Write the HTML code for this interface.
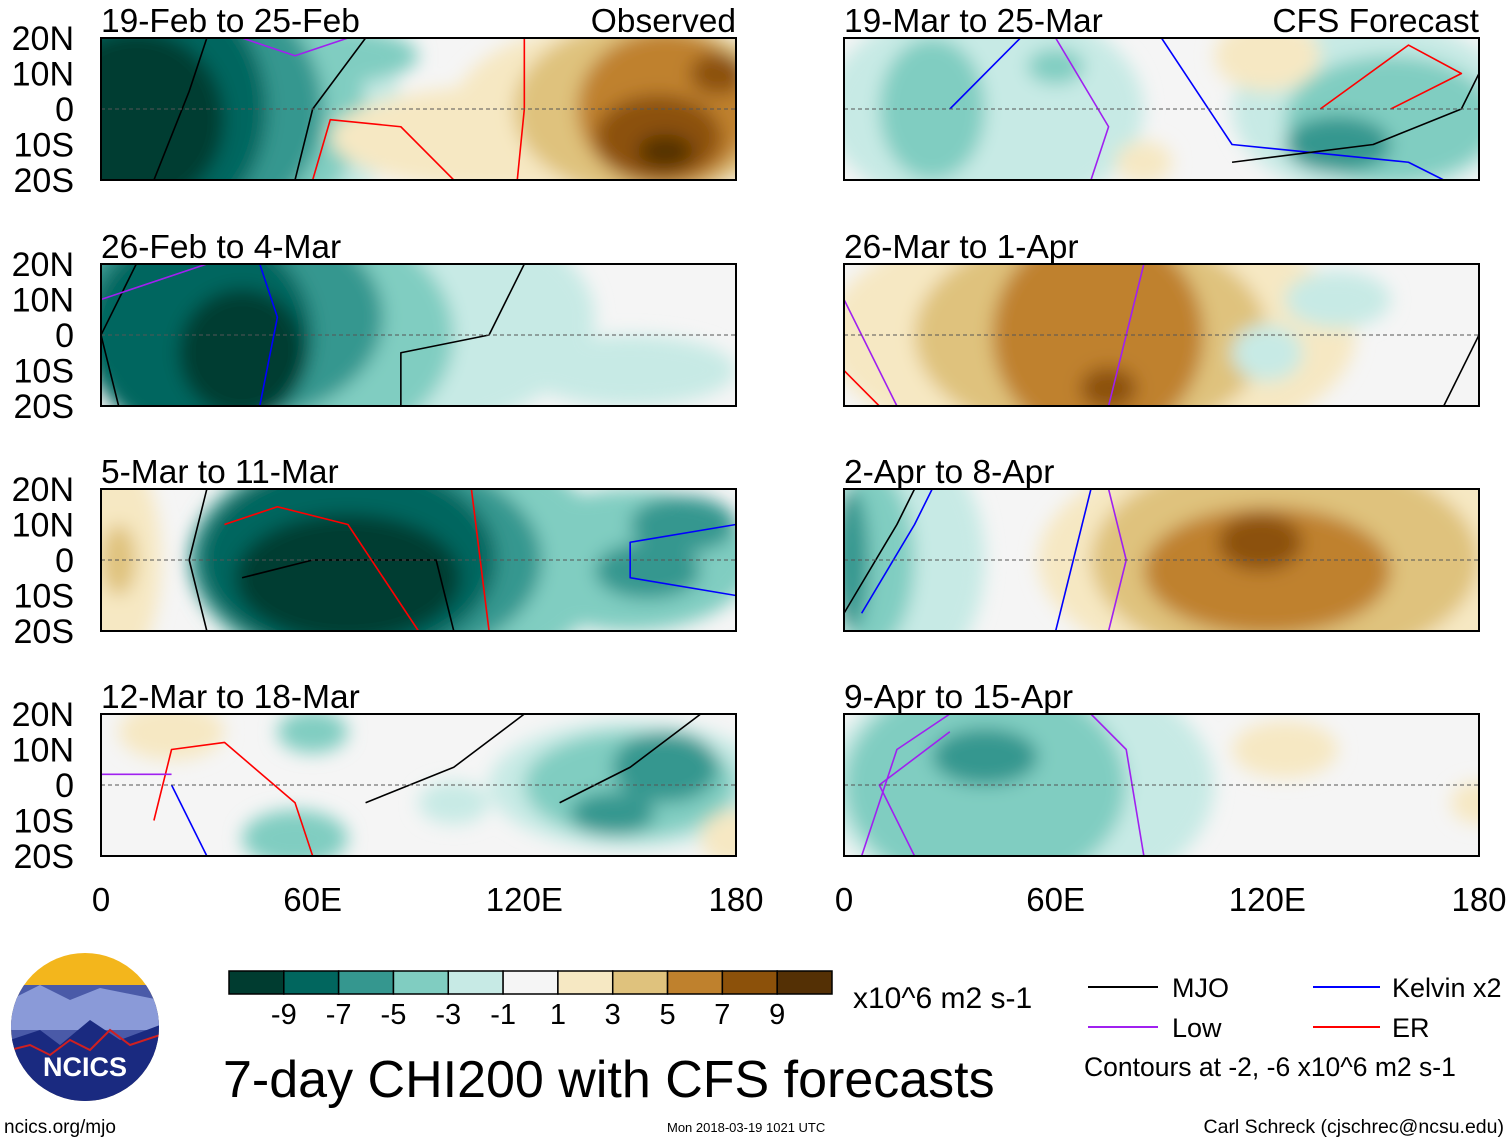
<!DOCTYPE html>
<html><head><meta charset="utf-8"><style>
body{margin:0;background:#fff;}
svg{display:block;font-family:"Liberation Sans",Arial,sans-serif;}
</style></head><body>
<svg id="chart" width="1510" height="1142" viewBox="0 0 1510 1142">
<defs><filter id="blur" x="-5%" y="-5%" width="110%" height="110%"><feGaussianBlur stdDeviation="9"/></filter></defs>
<g id="panels"></g>
<g id="colorbar"></g>
<g><text x="853" y="1008" font-size="30">x10^6 m2 s-1</text></g>
<text x="223" y="1097" font-size="52">7-day CHI200 with CFS forecasts</text>
<g>
<line x1="1088" y1="987" x2="1158" y2="987" stroke="#000" stroke-width="2"/><text x="1172" y="997" font-size="27">MJO</text>
<line x1="1313" y1="987" x2="1380" y2="987" stroke="#0000ff" stroke-width="2"/><text x="1392" y="997" font-size="27">Kelvin x2</text>
<line x1="1088" y1="1027" x2="1158" y2="1027" stroke="#a020f0" stroke-width="2"/><text x="1172" y="1037" font-size="27">Low</text>
<line x1="1313" y1="1027" x2="1380" y2="1027" stroke="#ff0000" stroke-width="2"/><text x="1392" y="1037" font-size="27">ER</text>
<text x="1084" y="1076" font-size="26.5">Contours at -2, -6 x10^6 m2 s-1</text>
</g>
<g>
<clipPath id="lc"><circle cx="85" cy="1027" r="74"/></clipPath>
<g clip-path="url(#lc)">
<rect x="10" y="952" width="150" height="150" fill="#f3b61c"/>
<rect x="10" y="985" width="150" height="120" fill="#4a5aa8"/>
<path d="M10 1000 L40 985 L70 1000 L100 988 L160 1000 L160 1030 L10 1030Z" fill="#8a9ad8"/>
<path d="M10 1040 L40 1030 L60 1045 L90 1020 L120 1040 L160 1025 L160 1110 L10 1110Z" fill="#1a2a80"/>
<polyline points="10,1050 30,1045 50,1055 70,1040 90,1050 110,1030 130,1045 160,1035" fill="none" stroke="#d02020" stroke-width="2"/>
</g>
<text x="85" y="1076" font-size="27" font-weight="bold" fill="#fff" text-anchor="middle">NCICS</text>
</g>
<text x="4" y="1133" font-size="19">ncics.org/mjo</text>
<text x="667" y="1132" font-size="13">Mon 2018-03-19 1021 UTC</text>
<text x="1504" y="1133" font-size="19.5" text-anchor="end">Carl Schreck (cjschrec@ncsu.edu)</text>
</svg>
<script>
const levels=[-9,-7,-5,-3,-1,1,3,5,7,9];
const levelColors=["#003c30","#01665e","#35978f","#80cdc1","#c7eae5","#f5f5f5","#f6e8c3","#dfc27d","#bf812d","#8c510a","#543005"];
const lonTicks=[0,60,120,180];
const lonLabels=["0","60E","120E","180"];
const latTicks=[20,10,0,-10,-20];
const latLabels=["20N","10N","0","10S","20S"];
const panelTitles=["19-Feb to 25-Feb","26-Feb to 4-Mar","5-Mar to 11-Mar","12-Mar to 18-Mar","19-Mar to 25-Mar","26-Mar to 1-Apr","2-Apr to 8-Apr","9-Apr to 15-Apr"];
const panelTags=["Observed","","","","CFS Forecast","","",""];
// blobs: [lon, lat, rlon, rlat, value]
const panelBlobs=[
[[40,0,45,35,-1],[35,0,40,35,-3],[65,15,25,8,-3],[25,0,38,35,-5],[15,0,32,35,-7],[10,-3,25,25,-9],[120,-8,55,15,1],[150,0,50,25,1],[155,0,38,25,3],[160,0,25,22,5],[158,-8,18,12,7],[175,10,8,6,7],[160,-12,8,5,9]],
[[70,5,70,35,-1],[50,0,50,35,-3],[35,5,45,30,-5],[28,0,32,30,-7],[40,-5,18,18,-9],[150,-10,30,10,-1]],
[[5,0,12,30,1],[5,0,5,10,3],[85,0,60,35,-3],[150,0,35,20,-3],[75,0,50,30,-5],[155,-3,15,8,-5],[165,10,15,8,-5],[70,0,42,28,-7],[70,-5,32,18,-9]],
[[20,15,15,8,1],[60,15,10,6,-3],[100,-5,10,6,-1],[150,0,40,18,-1],[150,0,30,15,-3],[160,5,15,10,-5],[145,-8,12,6,-5],[55,-15,15,8,-3],[180,-15,10,8,1]],
[[40,0,45,30,-1],[25,0,15,20,-3],[60,12,8,5,-3],[150,0,40,25,-1],[155,-3,30,18,-3],[140,-10,15,8,-5],[120,15,15,10,1],[85,-15,8,6,1]],
[[70,0,75,35,1],[70,0,50,30,3],[72,0,30,30,5],[75,-15,8,6,7],[140,10,15,8,-1],[120,-5,10,8,-1]],
[[15,0,25,35,-1],[8,0,12,25,-3],[2,0,5,20,-5],[130,0,75,35,1],[125,0,55,30,3],[120,-3,35,18,5],[118,5,12,8,7]],
[[50,0,55,35,-1],[40,0,40,30,-3],[40,8,15,8,-5],[180,-5,8,6,1],[125,10,15,8,1]]
];
// contour lines: [color, [lon,lat,...]]
const panelLines=[
[["#000",[30,20,25,5,15,-20]],["#000",[75,20,60,0,55,-20]],["#ff0000",[120,20,120,0,118,-20]],["#ff0000",[60,-20,65,-3,85,-5,100,-20]],["#a020f0",[40,20,55,15,70,20]]],
[["#000",[10,20,0,0,5,-20]],["#000",[120,20,110,0,85,-5,85,-20]],["#0000ff",[45,20,50,5,45,-20]],["#a020f0",[0,10,30,20]]],
[["#000",[30,20,25,0,30,-20]],["#000",[40,-5,60,0,95,0,100,-20]],["#ff0000",[35,10,50,15,70,10,80,-5,90,-20]],["#0000ff",[180,10,150,5,150,-5,180,-10]],["#ff0000",[105,20,110,-20]]],
[["#000",[75,-5,100,5,120,20]],["#000",[130,-5,150,5,170,20]],["#ff0000",[15,-10,20,10,35,12,55,-5,60,-20]],["#0000ff",[20,0,30,-20]],["#a020f0",[0,3,20,3]]],
[["#0000ff",[30,0,50,20]],["#0000ff",[90,20,110,-10,160,-15,170,-20]],["#000",[110,-15,150,-10,175,0,180,10]],["#ff0000",[135,0,160,18,175,10,155,0]],["#a020f0",[60,20,75,-5,70,-20]],["#ff0000",[0,-20,10,-20]]],
[["#a020f0",[0,10,10,-10,15,-20]],["#a020f0",[75,-20,80,0,85,20]],["#000",[180,0,170,-20]],["#ff0000",[0,-10,10,-20]]],
[["#000",[0,-15,15,10,20,20]],["#0000ff",[5,-15,20,10,25,20]],["#0000ff",[60,-20,65,0,70,20]],["#a020f0",[75,-20,80,0,75,20]]],
[["#a020f0",[5,-20,15,10,30,20]],["#a020f0",[85,-20,80,10,70,20]],["#a020f0",[20,-20,10,0,30,15]]]
];
const NS="http://www.w3.org/2000/svg";
function mk(t,a,p){const e=document.createElementNS(NS,t);for(const k in a)e.setAttribute(k,a[k]);p.appendChild(e);return e;}
function colorOf(v){let i=0;if(v>0){while(i<levels.length&&v>=levels[i])i++;}else{while(i<levels.length&&v>levels[i])i++;}return levelColors[i];}
const W=635,H=142;
const pg=document.getElementById('panels');
panelTitles.forEach((title,i)=>{
  const col=i<4?0:1,row=i%4;
  const x0=col?844:101,y0=[38,264,489,714][row];
  const xs=lon=>x0+lon/180*W, ys=lat=>y0+(20-lat)/40*H;
  const g=mk('g',{},pg);
  
  
  mk('clipPath',{id:'c'+i},g).appendChild(mk('rect',{x:x0,y:y0,width:W,height:H},g));
  const inner=mk('g',{'clip-path':'url(#c'+i+')'},g);
  mk('rect',{x:x0,y:y0,width:W,height:H,fill:levelColors[5]},inner);
  const bg=mk('g',{filter:'url(#blur)'},inner);
  panelBlobs[i].forEach(b=>{
    const e=mk('ellipse',{cx:xs(b[0]),cy:ys(b[1]),rx:b[2]/180*W,ry:b[3]/40*H,fill:colorOf(b[4])},bg);
    
    
  });
  panelLines[i].forEach(l=>{
    const c=l[1];let pts=[];for(let k=0;k<c.length;k+=2)pts.push(xs(c[k])+','+ys(c[k+1]));
    const p=mk('polyline',{points:pts.join(' '),fill:'none',stroke:l[0],'stroke-width':1.6,'stroke-linejoin':'round'},inner);
    
    
  });
  mk('line',{x1:x0,x2:x0+W,y1:ys(0),y2:ys(0),stroke:'#555','stroke-dasharray':'4,3','stroke-width':1},inner);
  mk('rect',{x:x0,y:y0,width:W,height:H,fill:'none',stroke:'#000','stroke-width':2},g);
  const t=mk('text',{x:x0,y:y0-6,'font-size':33.5},g);t.textContent=title;
  
  if(panelTags[i]){const s=mk('text',{x:x0+W,y:y0-6,'font-size':33.5,'text-anchor':'end'},g);s.textContent=panelTags[i];
    }
  if(col===0){latTicks.forEach((lt,k)=>{const l=mk('text',{x:74,y:ys(lt)+12,'font-size':34,'text-anchor':'end'},g);l.textContent=latLabels[k];
    });}
  if(row===3){lonTicks.forEach((ln,k)=>{const l=mk('text',{x:xs(ln),y:911,'font-size':33,'text-anchor':'middle'},g);l.textContent=lonLabels[k];
    });}
});
const cb=document.getElementById('colorbar');
const bw=603/levelColors.length;
levelColors.forEach((c,k)=>{const r=mk('rect',{x:229+k*bw,y:971,width:bw,height:23,fill:c,stroke:'#000','stroke-width':1.5},cb);
  });
levels.forEach((v,k)=>{const t=mk('text',{x:229+(k+1)*bw,y:1024,'font-size':29,'text-anchor':'middle'},cb);t.textContent=v<0?'-'+Math.abs(v):String(v);
  });
</script>
</body></html>
